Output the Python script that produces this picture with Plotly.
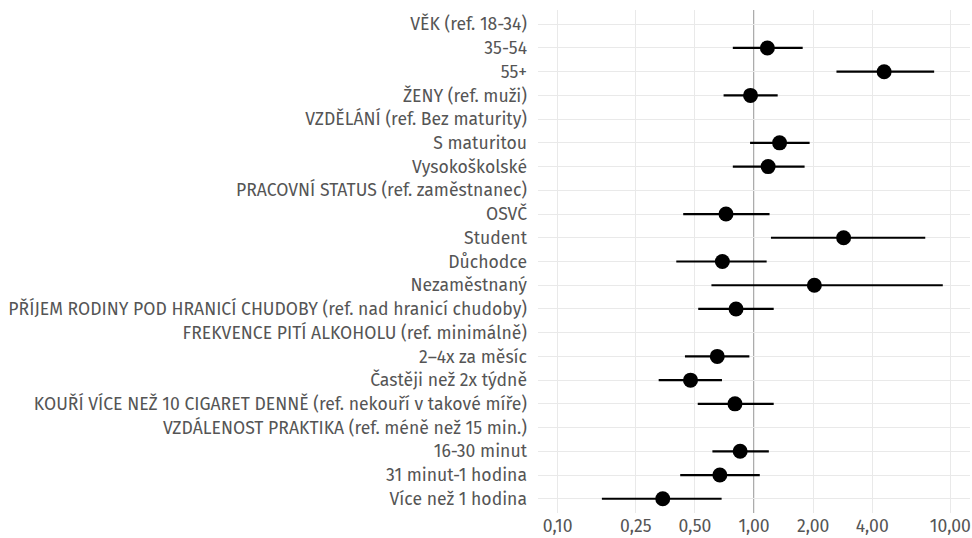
import plotly.graph_objects as go

labels = [
    "VĚK (ref. 18-34)",
    "35-54",
    "55+",
    "ŽENY (ref. muži)",
    "VZDĚLÁNÍ (ref. Bez maturity)",
    "S maturitou",
    "Vysokoškolské",
    "PRACOVNÍ STATUS (ref. zaměstnanec)",
    "OSVČ",
    "Student",
    "Důchodce",
    "Nezaměstnaný",
    "PŘÍJEM RODINY POD HRANICÍ CHUDOBY (ref. nad hranicí chudoby)",
    "FREKVENCE PITÍ ALKOHOLU (ref. minimálně)",
    "2–4x za měsíc",
    "Častěji než 2x týdně",
    "KOUŘÍ VÍCE NEŽ 10 CIGARET DENNĚ (ref. nekouří v takové míře)",
    "VZDÁLENOST PRAKTIKA (ref. méně než 15 min.)",
    "16-30 minut",
    "31 minut-1 hodina",
    "Více než 1 hodina",
]
estimate = [None, 1.17, 4.60, 0.96, None, 1.35, 1.18, None, 0.72, 2.86, 0.69, 2.03,
            0.81, None, 0.65, 0.475, 0.80, None, 0.85, 0.67, 0.343]
ci_low = [None, 0.78, 2.63, 0.70, None, 0.955, 0.78, None, 0.436, 1.22, 0.402, 0.607,
          0.52, None, 0.445, 0.327, 0.517, None, 0.614, 0.421, 0.168]
ci_high = [None, 1.77, 8.27, 1.32, None, 1.92, 1.81, None, 1.20, 7.45, 1.16, 9.15,
           1.26, None, 0.947, 0.687, 1.26, None, 1.19, 1.07, 0.684]

tick_vals = [0.10, 0.25, 0.50, 1.00, 2.00, 4.00, 10.00]
tick_text = ["0,10", "0,25", "0,50", "1,00", "2,00", "4,00", "10,00"]

# segments for confidence intervals
seg_x, seg_y = [], []
for lab, lo, hi in zip(labels, ci_low, ci_high):
    if lo is None:
        continue
    seg_x += [lo, hi, None]
    seg_y += [lab, lab, None]

pts_x = [e for e in estimate if e is not None]
pts_y = [l for l, e in zip(labels, estimate) if e is not None]

font = "Fira Sans, Noto Sans, sans-serif"
fig = go.Figure()
# invisible trace to fix category order
fig.add_trace(go.Scatter(x=[1] * len(labels), y=labels, mode="markers",
                         marker=dict(opacity=0), hoverinfo="skip", showlegend=False))
fig.add_trace(go.Scatter(x=seg_x, y=seg_y, mode="lines",
                         line=dict(color="black", width=2.2), showlegend=False))
fig.add_trace(go.Scatter(x=pts_x, y=pts_y, mode="markers",
                         marker=dict(color="black", size=15, line=dict(width=0)),
                         showlegend=False))

fig.add_shape(type="line", xref="x", yref="paper", x0=1, x1=1, y0=0, y1=1,
              line=dict(color="#a3a3a3", width=1.8), layer="below")

fig.update_layout(
    width=972, height=538,
    margin=dict(l=538, r=2, t=10, b=25),
    plot_bgcolor="white", paper_bgcolor="white",
    font=dict(family=font, size=17.6, color="#555555"),
    xaxis=dict(type="log", range=[-1.1, 1.1], tickvals=tick_vals, ticktext=tick_text,
               showgrid=True, gridcolor="#e9e9e9", gridwidth=1.4, zeroline=False,
               showline=False, ticks="", tickfont=dict(size=17.6, color="#555555")),
    yaxis=dict(type="category", categoryorder="array", categoryarray=labels,
               range=[20.6, -0.6], showgrid=True, gridcolor="#e9e9e9", gridwidth=1.4,
               zeroline=False, showline=False, ticks="", ticklabelstandoff=10,
               tickfont=dict(size=17.6, color="#555555")),
)

fig.write_html("out.html")
